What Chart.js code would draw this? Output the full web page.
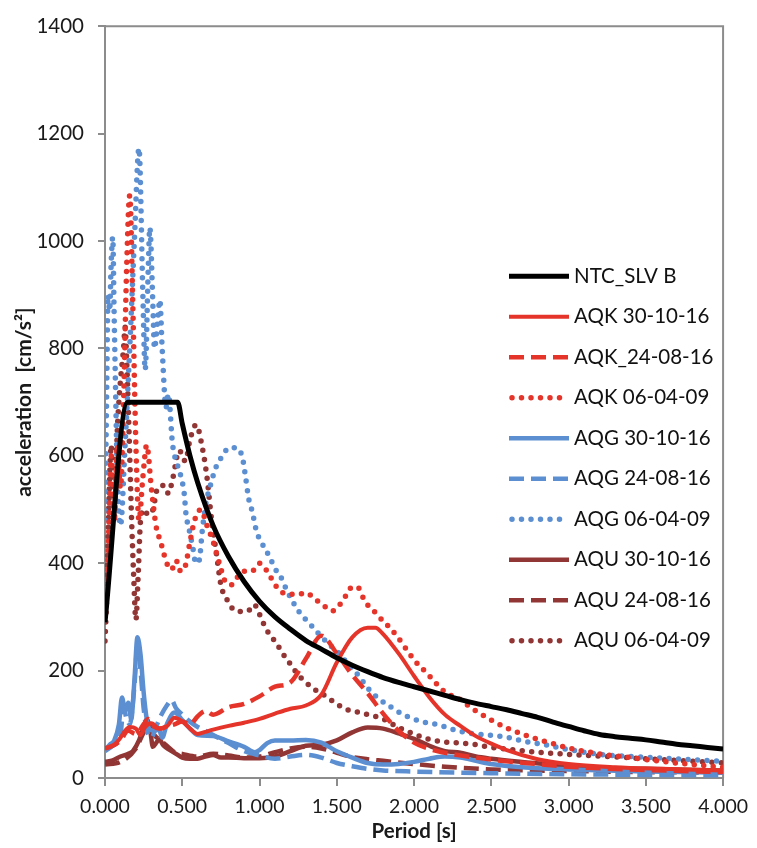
<!DOCTYPE html>
<html lang="en">

<head>
  <title>Response spectra</title>
  <meta charset="UTF-8">
  <script src="https://cdn.jsdelivr.net/npm/chart.js@4.4.1/dist/chart.umd.min.js"></script>
  <style>
    body { margin: 0; background: #fff; }
  </style>
</head>

<body>
  <canvas id="myChart" width="757" height="848"></canvas>
  <script>
    // periods [s] and accelerations [cm/s²], one pair of arrays per series
    const ntcT = [0, 0.146, 0.47, 0.5, 0.55, 0.6, 0.7, 0.8, 0.9, 1.0, 1.1, 1.2, 1.3, 1.4, 1.5, 1.6, 1.7, 1.8, 1.9, 2.0, 2.1, 2.2, 2.3, 2.4, 2.5, 2.6, 2.7, 2.8, 2.9, 3.0, 3.1, 3.2, 3.3, 3.4, 3.5, 3.6, 3.7, 3.8, 3.9, 4.0];
    const ntcA = [290, 700, 700, 660, 600, 550, 470, 412, 366, 329, 300, 277, 256, 240, 224, 210, 198, 187, 178, 170, 162, 154, 146, 139, 133, 127, 120, 113, 104, 96, 88, 81, 77, 74, 71, 67, 63, 60, 57, 54];

    const aqk30T = [0, 0.03, 0.06, 0.1, 0.13, 0.16, 0.2, 0.23, 0.26, 0.3, 0.35, 0.4, 0.45, 0.5, 0.55, 0.6, 0.65, 0.7, 0.8, 0.9, 1.0, 1.1, 1.2, 1.3, 1.4, 1.5, 1.6, 1.7, 1.75, 1.8, 1.9, 2.0, 2.1, 2.2, 2.3, 2.4, 2.5, 2.6, 2.8, 3.0, 3.3, 3.6, 4.0];
    const aqk30A = [55, 58, 62, 75, 88, 95, 92, 80, 95, 102, 92, 96, 112, 105, 92, 82, 86, 90, 97, 103, 110, 120, 129, 135, 155, 215, 262, 280, 280, 268, 232, 190, 150, 118, 97, 78, 64, 52, 35, 26, 20, 17, 14];

    const aqk24T = [0, 0.05, 0.1, 0.15, 0.2, 0.25, 0.28, 0.32, 0.36, 0.4, 0.45, 0.5, 0.55, 0.6, 0.65, 0.7, 0.8, 0.9, 1.0, 1.1, 1.2, 1.3, 1.4, 1.5, 1.6, 1.7, 1.8, 1.9, 2.0, 2.1, 2.2, 2.4, 2.6, 2.8, 3.0, 3.5, 4.0];
    const aqk24A = [55, 60, 70, 88, 82, 100, 110, 95, 92, 96, 100, 105, 100, 115, 125, 118, 132, 138, 152, 170, 178, 222, 265, 232, 192, 158, 120, 88, 66, 54, 47, 38, 31, 26, 21, 15, 11];

    const aqk06T = [0, 0.02, 0.04, 0.06, 0.08, 0.1, 0.12, 0.14, 0.16, 0.18, 0.2, 0.22, 0.245, 0.27, 0.3, 0.33, 0.36, 0.4, 0.43, 0.46, 0.49, 0.52, 0.55, 0.58, 0.62, 0.66, 0.7, 0.74, 0.78, 0.82, 0.86, 0.9, 0.95, 1.0, 1.05, 1.1, 1.15, 1.2, 1.25, 1.3, 1.36, 1.42, 1.47, 1.52, 1.56, 1.6, 1.64, 1.68, 1.75, 1.8, 1.85, 1.9, 1.95, 2.0, 2.05, 2.1, 2.15, 2.2, 2.3, 2.35, 2.4, 2.5, 2.6, 2.7, 2.8, 2.9, 3.0, 3.2, 3.4, 3.6, 3.8, 4.0];
    const aqk06A = [300, 420, 600, 480, 620, 540, 700, 950, 1085, 880, 620, 480, 560, 620, 540, 470, 440, 400, 388, 405, 385, 395, 440, 480, 500, 470, 440, 400, 365, 360, 375, 385, 385, 400, 385, 360, 345, 342, 342, 345, 333, 320, 311, 323, 340, 356, 354, 330, 308, 292, 278, 260, 240, 220, 205, 190, 174, 160, 146, 135, 125, 108, 93, 82, 72, 64, 56, 45, 38, 31, 25, 20];

    const aqg30T = [0, 0.03, 0.06, 0.09, 0.11, 0.13, 0.15, 0.17, 0.19, 0.21, 0.23, 0.25, 0.27, 0.29, 0.32, 0.35, 0.37, 0.4, 0.45, 0.5, 0.55, 0.6, 0.7, 0.8, 0.9, 0.97, 1.0, 1.05, 1.1, 1.2, 1.3, 1.4, 1.45, 1.5, 1.6, 1.7, 1.8, 1.9, 2.0, 2.1, 2.2, 2.3, 2.4, 2.5, 2.7, 3.0, 3.5, 4.0];
    const aqg30A = [52, 62, 70, 100, 150, 125, 140, 110, 180, 262, 230, 160, 110, 90, 88, 90, 75, 100, 122, 108, 92, 80, 78, 68, 58, 48, 52, 65, 70, 70, 71, 66, 58, 50, 38, 28, 25, 26, 30, 36, 40, 38, 32, 26, 20, 16, 12, 10];

    const aqg24T = [0, 0.05, 0.1, 0.12, 0.14, 0.16, 0.19, 0.21, 0.23, 0.25, 0.27, 0.3, 0.33, 0.36, 0.4, 0.43, 0.46, 0.5, 0.55, 0.6, 0.65, 0.7, 0.8, 0.9, 1.0, 1.1, 1.2, 1.3, 1.4, 1.5, 1.6, 1.7, 1.8, 2.0, 2.5, 3.0, 4.0];
    const aqg24A = [50, 60, 80, 130, 110, 100, 170, 245, 200, 130, 90, 75, 95, 115, 135, 145, 130, 118, 105, 95, 88, 80, 65, 50, 42, 36, 40, 43, 38, 28, 22, 17, 14, 12, 9, 7, 5];

    const aqg06T = [0, 0.01, 0.02, 0.03, 0.04, 0.05, 0.06, 0.07, 0.08, 0.1, 0.13, 0.16, 0.19, 0.22, 0.245, 0.26, 0.28, 0.29, 0.31, 0.32, 0.34, 0.355, 0.37, 0.395, 0.41, 0.437, 0.47, 0.49, 0.513, 0.524, 0.545, 0.567, 0.588, 0.61, 0.63, 0.653, 0.685, 0.717, 0.76, 0.803, 0.846, 0.889, 0.91, 0.93, 0.954, 0.98, 1.01, 1.04, 1.07, 1.1, 1.137, 1.16, 1.19, 1.255, 1.32, 1.385, 1.45, 1.51, 1.58, 1.64, 1.705, 1.77, 1.835, 1.9, 1.96, 2.05, 2.16, 2.27, 2.37, 2.48, 2.6, 2.72, 2.85, 3.0, 3.2, 3.4, 3.6, 3.8, 4.0];
    const aqg06A = [480, 700, 900, 870, 960, 1007, 850, 700, 560, 470, 620, 800, 1000, 1173, 900, 760, 950, 1025, 880, 800, 850, 890, 800, 690, 715, 622, 582, 563, 529, 492, 462, 431, 400, 406, 462, 511, 548, 578, 600, 615, 615, 597, 560, 520, 495, 460, 440, 425, 409, 390, 375, 360, 342, 310, 289, 268, 249, 234, 209, 191, 166, 148, 135, 123, 114, 105, 99, 89, 83, 80, 76, 68, 62, 53, 44, 40, 37, 34, 31];

    const aqu30T = [0, 0.05, 0.1, 0.15, 0.18, 0.22, 0.25, 0.27, 0.29, 0.31, 0.33, 0.35, 0.38, 0.42, 0.46, 0.5, 0.55, 0.6, 0.65, 0.7, 0.75, 0.8, 0.9, 1.0, 1.1, 1.2, 1.3, 1.4, 1.5, 1.6, 1.7, 1.8, 1.9, 2.0, 2.1, 2.2, 2.3, 2.4, 2.5, 2.7, 3.0, 3.5, 4.0];
    const aqu30A = [30, 33, 40, 45, 50, 70, 95, 110, 95, 58, 65, 72, 60, 52, 45, 38, 36, 36, 40, 43, 38, 38, 37, 37, 40, 50, 60, 62, 70, 85, 94, 92, 83, 73, 60, 50, 47, 40, 36, 30, 22, 17, 14];

    const aqu24T = [0, 0.1, 0.2, 0.25, 0.28, 0.32, 0.36, 0.4, 0.45, 0.5, 0.6, 0.7, 0.8, 0.9, 1.0, 1.1, 1.2, 1.3, 1.4, 1.5, 1.6, 1.7, 1.8, 2.0, 2.2, 2.5, 3.0, 3.5, 4.0];
    const aqu24A = [25, 30, 55, 85, 100, 80, 70, 60, 48, 45, 40, 45, 42, 38, 40, 48, 55, 58, 55, 47, 39, 35, 32, 26, 21, 16, 13, 11, 10];

    const aqu06T = [0, 0.01, 0.02, 0.03, 0.04, 0.05, 0.06, 0.07, 0.08, 0.09, 0.1, 0.12, 0.13, 0.14, 0.155, 0.17, 0.185, 0.2, 0.215, 0.23, 0.25, 0.28, 0.31, 0.34, 0.38, 0.41, 0.44, 0.48, 0.52, 0.55, 0.59, 0.63, 0.66, 0.69, 0.72, 0.75, 0.79, 0.83, 0.88, 0.93, 0.965, 1.0, 1.03, 1.07, 1.1, 1.15, 1.2, 1.25, 1.3, 1.35, 1.4, 1.45, 1.5, 1.56, 1.65, 1.7, 1.8, 1.9, 2.0, 2.1, 2.2, 2.3, 2.4, 2.5, 2.6, 2.8, 3.0, 3.5, 4.0];
    const aqu06A = [255, 330, 450, 560, 620, 540, 480, 560, 650, 700, 740, 800, 840, 780, 650, 500, 380, 295, 380, 480, 500, 490, 500, 540, 545, 530, 560, 610, 590, 630, 658, 615, 560, 480, 420, 360, 332, 314, 310, 312, 323, 305, 285, 265, 255, 232, 212, 192, 178, 166, 158, 148, 138, 128, 122, 118, 110, 94, 82, 72, 67, 65, 62, 57, 54, 48, 44, 36, 28];

    const labels = ["NTC_SLV B", "AQK 30-10-16", "AQK_24-08-16", "AQK 06-04-09", "AQG 30-10-16", "AQG 24-08-16", "AQG 06-04-09", "AQU 30-10-16", "AQU 24-08-16", "AQU 06-04-09"];

    const RED = "#e5352a", BLUE = "#5b8fd1", DARK = "#913634";
    const SOLID = [], DASH = [15, 7], DOT = [0, 9.5];

    function pairs(t, a) {
      return t.map((v, i) => ({ x: v, y: a[i] }));
    }

    function series(i, t, a, color, dash, width) {
      return {
        label: labels[i],
        data: pairs(t, a),
        borderColor: color,
        borderWidth: width,
        borderDash: dash,
        borderCapStyle: dash === DOT ? "round" : "butt",
        pointRadius: 0,
        cubicInterpolationMode: "monotone",
        fill: false
      };
    }

    const datasets = [
      series(0, ntcT, ntcA, "#000000", SOLID, 5),
      series(1, aqk30T, aqk30A, RED, SOLID, 4),
      series(2, aqk24T, aqk24A, RED, DASH, 4.5),
      series(3, aqk06T, aqk06A, RED, DOT, 5.5),
      series(4, aqg30T, aqg30A, BLUE, SOLID, 4.5),
      series(5, aqg24T, aqg24A, BLUE, DASH, 4.5),
      series(6, aqg06T, aqg06A, BLUE, DOT, 5.5),
      series(7, aqu30T, aqu30A, DARK, SOLID, 4.5),
      series(8, aqu24T, aqu24A, DARK, DASH, 4.5),
      series(9, aqu06T, aqu06A, DARK, DOT, 5.5)
    ];

    // grey box round the plot area (top and right sides are not axes)
    const framePlugin = {
      id: "frame",
      beforeDatasetsDraw(chart) {
        const { ctx, chartArea: a } = chart;
        ctx.save();
        ctx.strokeStyle = "#8c8c8c";
        ctx.lineWidth = 2;
        ctx.beginPath();
        ctx.moveTo(a.left, a.top);
        ctx.lineTo(a.right, a.top);
        ctx.lineTo(a.right, a.bottom);
        ctx.stroke();
        ctx.restore();
      }
    };

    // legend sits inside the plot, right side
    const insideLegend = {
      id: "insideLegend",
      afterDraw(chart) {
        const { ctx, chartArea } = chart;
        const x0 = chartArea.left + 404, x1 = x0 + 60;
        let y = chartArea.top + 250;
        chart.data.datasets.forEach(ds => {
          ctx.save();
          ctx.strokeStyle = ds.borderColor;
          ctx.lineWidth = ds.borderWidth;
          ctx.setLineDash(ds.borderDash);
          ctx.lineCap = ds.borderCapStyle;
          ctx.beginPath();
          ctx.moveTo(x0 + (ds.borderDash === DOT ? 3 : 0), y);
          ctx.lineTo(x1, y);
          ctx.stroke();
          ctx.restore();
          ctx.fillStyle = "#111";
          ctx.font = "20.5px Lato";
          ctx.textBaseline = "middle";
          ctx.fillText(ds.label, x1 + 5, y);
          y += 40.5;
        });
      }
    };

    Chart.defaults.font.family = "Lato";
    Chart.defaults.color = "#1a1a1a";

    new Chart("myChart", {
      type: "line",
      data: { datasets: datasets },
      plugins: [framePlugin, insideLegend],
      options: {
        responsive: false,
        animation: false,
        layout: { padding: { top: 20, right: 31, left: 0, bottom: 0 } },
        plugins: {
          legend: { display: false },
          tooltip: { enabled: false }
        },
        scales: {
          x: {
            type: "linear",
            min: 0,
            max: 4,
            ticks: {
              stepSize: 0.5,
              padding: 9,
              font: { size: 19.5 },
              callback: v => v.toFixed(3)
            },
            grid: { drawOnChartArea: false, color: "#8c8c8c", lineWidth: 2, tickLength: 8 },
            border: { color: "#8c8c8c", width: 2 },
            title: { display: true, text: "Period [s]", font: { size: 20.5, weight: "bold" }, padding: { top: 0, bottom: 4 } },
            afterFit: scale => { scale.height = 70; }
          },
          y: {
            min: 0,
            max: 1400,
            ticks: { stepSize: 200, padding: 14, font: { size: 20.5 }, callback: v => String(v) },
            grid: { drawOnChartArea: false, color: "#8c8c8c", lineWidth: 2, tickLength: 7 },
            border: { color: "#8c8c8c", width: 2 },
            title: { display: true, text: "acceleration  [cm/s²]", font: { size: 21, weight: "bold" }, padding: { top: 12, bottom: 0 } },
            afterFit: scale => { scale.width = 105; }
          }
        }
      }
    });
  </script>
</body>

</html>
